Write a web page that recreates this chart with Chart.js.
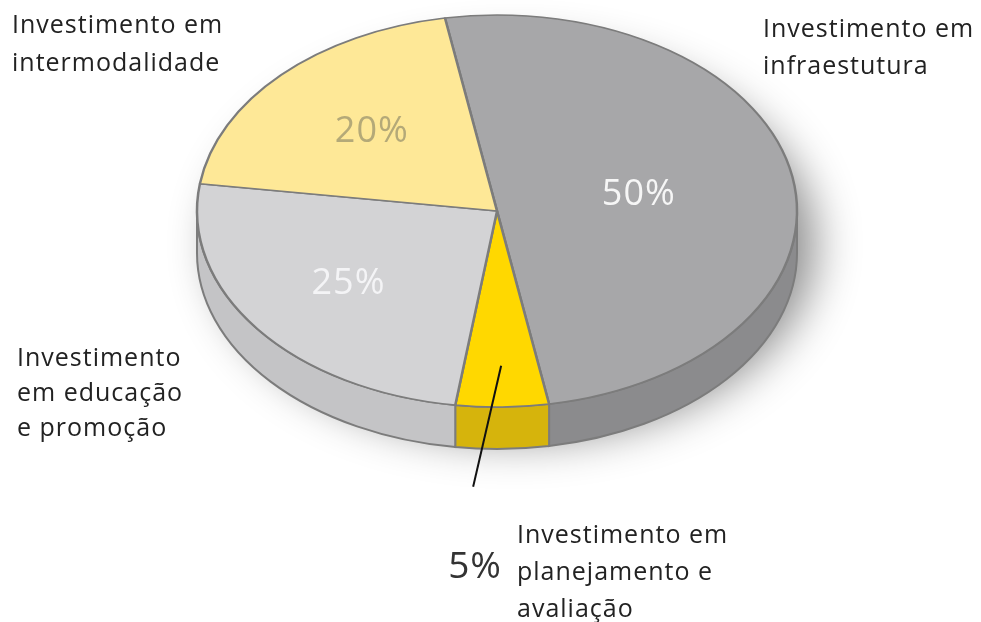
<!DOCTYPE html>
<html lang="pt">
<head>
<meta charset="utf-8">
<title>Distribuição dos investimentos</title>
<script src="https://cdn.jsdelivr.net/npm/chart.js@4.4.1/dist/chart.umd.min.js"></script>
<style>
  html, body { margin: 0; padding: 0; background: #fff; }
  #wrap { position: relative; width: 981px; height: 622px; }
</style>
</head>
<body>
<div id="wrap"><canvas id="investChart"></canvas></div>
<script>
// Slices, clockwise from the top
const categories = [
  ['Investimento em', 'infraestutura'],
  ['Investimento em', 'planejamento e', 'avaliação'],
  ['Investimento', 'em educação', 'e promoção'],
  ['Investimento em', 'intermodalidade']
];
const shares = [50, 5, 25, 20];

const topColors = ['#a7a7a9', '#ffd800', '#d3d3d5', '#fee897'];
const sideColors = ['#8b8b8d', '#d6b40c', '#c4c4c6', '#e6cf7a'];
const valueColors = ['#f6f6f6', '#333333', '#f4f4f6', '#b4a978'];

// where each value sits, as a fraction of the radius (null = outside with a leader)
const valueRadius = [0.48, null, 0.62, 0.58];
// category captions: left x, first baseline, line step
const captionPos = [[763, 37, 37], [517, 543, 37], [17, 366, 35], [12, 33, 38]];

// tilted pie geometry
const CENTER_Y = 211;
const HALF_HEIGHT = 196;
const DEPTH = 42;

const NAME_FONT = '25px "Open Sans", sans-serif';
const VALUE_FONT = '36px "Open Sans", sans-serif';

function angleRanges(arc) {
  // parts of the arc that face the viewer (0..PI)
  const out = [];
  for (let off = -2 * Math.PI; off <= 2 * Math.PI; off += 2 * Math.PI) {
    const s = Math.max(arc.startAngle + off, 0);
    const e = Math.min(arc.endAngle + off, Math.PI);
    if (e > s) out.push([s, e]);
  }
  return out;
}

const tiltPlugin = {
  id: 'tilt',
  beforeDatasetsDraw(chart) {
    const ctx = chart.ctx;
    const arcs = chart.getDatasetMeta(0).data;
    const cx = arcs[0].x, cy = arcs[0].y;
    const a = arcs[0].outerRadius, b = HALF_HEIGHT;

    // soft drop shadow under the disc
    ctx.save();
    ctx.shadowColor = 'rgba(0,0,0,0.45)';
    ctx.shadowBlur = 45;
    ctx.shadowOffsetX = 18;
    ctx.shadowOffsetY = 8;
    ctx.fillStyle = '#999';
    ctx.beginPath();
    ctx.ellipse(cx, CENTER_Y + DEPTH * 0.6, a, b, 0, 0, Math.PI * 2);
    ctx.fill();
    ctx.restore();

    // side wall of each slice
    arcs.forEach((arc, i) => {
      angleRanges(arc).forEach(([s, e]) => {
        ctx.beginPath();
        ctx.ellipse(cx, CENTER_Y, a, b, 0, s, e);
        ctx.ellipse(cx, CENTER_Y + DEPTH, a, b, 0, e, s, true);
        ctx.closePath();
        ctx.fillStyle = sideColors[i];
        ctx.fill();
        ctx.lineWidth = 2;
        ctx.strokeStyle = '#7c7c7c';
        ctx.stroke();
      });
    });

    // squash the top face into an ellipse
    ctx.save();
    ctx.translate(cx, CENTER_Y);
    ctx.scale(1, b / a);
    ctx.translate(-cx, -cy);
  },
  afterDatasetsDraw(chart) {
    chart.ctx.restore();
  },
  afterDraw(chart) {
    const ctx = chart.ctx;
    const arcs = chart.getDatasetMeta(0).data;
    const cx = arcs[0].x;
    const a = arcs[0].outerRadius, b = HALF_HEIGHT;
    const labels = chart.data.labels;
    const values = chart.data.datasets[0].data;

    ctx.save();
    arcs.forEach((arc, i) => {
      const mid = (arc.startAngle + arc.endAngle) / 2;
      const text = values[i] + '%';
      ctx.letterSpacing = '1px';
      if (valueRadius[i] !== null) {
        const f = valueRadius[i];
        ctx.font = VALUE_FONT;
        ctx.textAlign = 'center';
        ctx.textBaseline = 'middle';
        ctx.fillStyle = valueColors[i];
        ctx.fillText(text, cx + a * f * Math.cos(mid), CENTER_Y + b * f * Math.sin(mid));
      } else {
        // leader line from inside the slice down to the value
        const x0 = cx + a * 0.79 * Math.cos(mid);
        const y0 = CENTER_Y + b * 0.79 * Math.sin(mid);
        const x1 = x0 - 28, y1 = y0 + 121;
        ctx.beginPath();
        ctx.moveTo(x0, y0);
        ctx.lineTo(x1, y1);
        ctx.lineWidth = 2;
        ctx.strokeStyle = '#111';
        ctx.stroke();
        ctx.font = '37px "Open Sans", sans-serif';
        ctx.textAlign = 'left';
        ctx.textBaseline = 'alphabetic';
        ctx.fillStyle = valueColors[i];
        ctx.fillText(text, x1 - 25, y1 + 91);
      }

      // category caption
      const [lx, ly, step] = captionPos[i];
      ctx.font = NAME_FONT;
      ctx.textAlign = 'left';
      ctx.textBaseline = 'alphabetic';
      ctx.fillStyle = '#222';
      labels[i].forEach((line, j) => ctx.fillText(line, lx, ly + j * step));
    });
    ctx.restore();
  }
};

new Chart(document.getElementById('investChart'), {
  type: 'pie',
  data: {
    labels: categories,
    datasets: [{
      data: shares,
      backgroundColor: topColors,
      borderColor: '#7c7c7c',
      borderWidth: 2.5,
      clip: false
    }]
  },
  options: {
    responsive: true,
    maintainAspectRatio: false,
    animation: false,
    events: [],
    rotation: -10,
    radius: 300,
    layout: { padding: { left: 197, right: 184, top: 11, bottom: 11 } },
    plugins: {
      legend: { display: false },
      tooltip: { enabled: false }
    }
  },
  plugins: [tiltPlugin]
});
</script>
</body>
</html>
